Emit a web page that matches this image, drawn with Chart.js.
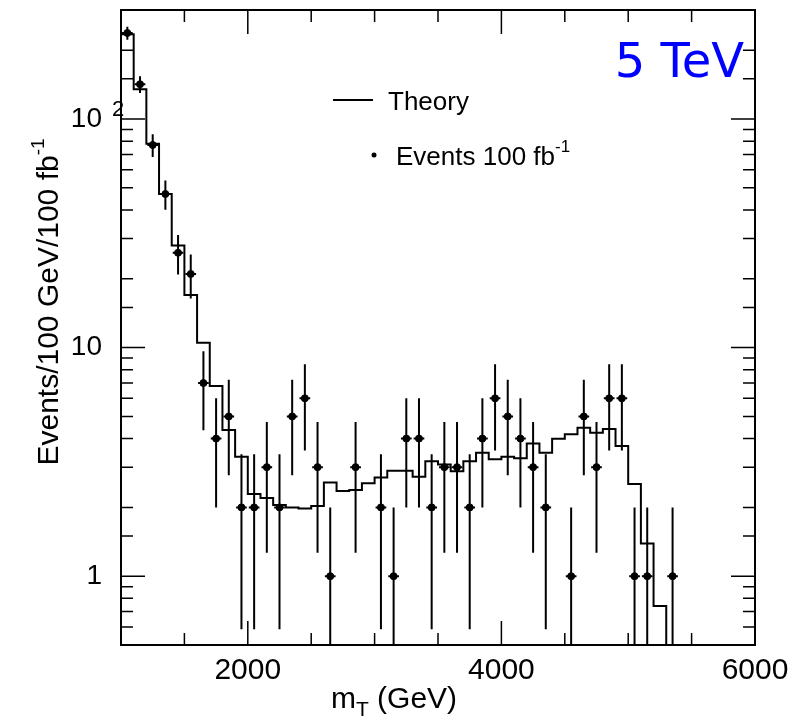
<!DOCTYPE html>
<html>
<head>
<meta charset="utf-8">
<script src="https://cdn.jsdelivr.net/npm/chart.js@4.4.1/dist/chart.umd.min.js"></script>
<style>
  html, body { margin: 0; padding: 0; background: #fff; }
  #wrap { width: 795px; height: 725px; }
</style>
</head>
<body>
<div id="wrap"><canvas id="grafico" width="795" height="725"></canvas></div>
<script>
// bordes de los bins (GeV) y prediccion teorica por bin
const binEdges = [1000, 1100, 1200, 1300, 1400, 1500, 1600, 1700, 1800, 1900,
  2000, 2100, 2200, 2300, 2400, 2500, 2600, 2700, 2800, 2900,
  3000, 3100, 3200, 3300, 3400, 3500, 3600, 3700, 3800, 3900,
  4000, 4100, 4200, 4300, 4400, 4500, 4600, 4700, 4800, 4900,
  5000, 5100, 5200, 5300, 5400];
const theory = [235, 135, 78, 47, 28, 17, 10.5, 6.8, 4.36, 3.33,
  2.29, 2.2, 2.05, 2.0, 1.98, 2.03, 2.57, 2.36, 2.38, 2.55,
  2.7, 2.89, 2.89, 2.72, 3.18, 3.08, 2.88, 3.18, 3.47, 3.25,
  3.33, 3.28, 3.81, 3.47, 3.99, 4.18, 4.46, 4.24, 4.4, 3.71,
  2.53, 1.39, 0.74, 0.2];

// eventos observados (centro del bin, cuentas)
const eventX = [1050, 1150, 1250, 1350, 1450, 1550, 1650, 1750, 1850, 1950,
  2050, 2150, 2250, 2350, 2450, 2550, 2650, 2850, 3050, 3150,
  3250, 3350, 3450, 3550, 3650, 3750, 3850, 3950, 4050, 4150,
  4250, 4350, 4550, 4650, 4750, 4850, 4950, 5050, 5150, 5350];
const eventN = [238, 142, 77, 47, 26, 21, 7, 4, 5, 2,
  2, 3, 2, 5, 6, 3, 1, 3, 2, 1,
  4, 4, 2, 3, 3, 2, 4, 6, 5, 4,
  3, 2, 1, 5, 3, 6, 6, 1, 1, 1];

const xTickLabels = { 2000: '2000', 4000: '4000', 6000: '6000' };
const yTickLabels = { 1: '1', 10: '10', 100: '10' };

const FONT = "'Liberation Sans', Arial, Helvetica, sans-serif";

document.addEventListener('DOMContentLoaded', function () {
    const ctx = document.getElementById('grafico').getContext('2d');

    const theoryData = binEdges.map((x, i) => ({ x: x, y: theory[Math.min(i, theory.length - 1)] }));
    const eventData = eventX.map((x, i) => ({ x: x, y: eventN[i] }));

    // marcas hacia dentro en los cuatro lados
    const ticksPlugin = {
        id: 'ticksMarcos',
        afterDraw(chart) {
            const { ctx, chartArea: a, scales } = chart;
            ctx.save();
            ctx.strokeStyle = '#000';
            ctx.lineWidth = 1.5;
            scales.x.ticks.forEach(t => {
                const px = scales.x.getPixelForValue(t.value);
                const len = xTickLabels[t.value] ? 24 : 12;
                ctx.beginPath();
                ctx.moveTo(px, a.bottom); ctx.lineTo(px, a.bottom - len);
                ctx.moveTo(px, a.top); ctx.lineTo(px, a.top + len);
                ctx.stroke();
            });
            scales.y.ticks.forEach(t => {
                const py = scales.y.getPixelForValue(t.value);
                if (py < a.top + 1 || py > a.bottom - 1) return;
                const len = yTickLabels[t.value] ? 24 : 12;
                ctx.beginPath();
                ctx.moveTo(a.left, py); ctx.lineTo(a.left + len, py);
                ctx.moveTo(a.right, py); ctx.lineTo(a.right - len, py);
                ctx.stroke();
            });
            // marco
            ctx.lineWidth = 2;
            ctx.strokeRect(a.left, a.top, a.right - a.left, a.bottom - a.top);
            ctx.restore();
        }
    };

    // barras de error: sqrt(N) en vertical, medio bin en horizontal
    const errorPlugin = {
        id: 'barrasError',
        afterDatasetsDraw(chart) {
            const { ctx, chartArea: a, scales } = chart;
            ctx.save();
            ctx.beginPath();
            ctx.rect(a.left, a.top, a.right - a.left, a.bottom - a.top);
            ctx.clip();
            ctx.strokeStyle = '#000';
            ctx.lineWidth = 2;
            eventData.forEach(p => {
                const err = Math.sqrt(p.y);
                const px = scales.x.getPixelForValue(p.x);
                const py = scales.y.getPixelForValue(p.y);
                const hi = scales.y.getPixelForValue(p.y + err);
                const low = p.y - err > 0.01 ? scales.y.getPixelForValue(p.y - err) : a.bottom + 5;
                const x0 = scales.x.getPixelForValue(p.x - 50);
                const x1 = scales.x.getPixelForValue(p.x + 50);
                ctx.beginPath();
                ctx.moveTo(px, hi); ctx.lineTo(px, low);
                ctx.moveTo(x0 + 1, py); ctx.lineTo(x1 - 1, py);
                ctx.stroke();
            });
            ctx.restore();
        }
    };

    // textos: titulos de ejes, exponentes, leyenda y energia
    const textPlugin = {
        id: 'textos',
        afterDraw(chart) {
            const { ctx, scales } = chart;
            ctx.save();
            ctx.fillStyle = '#000';
            ctx.textBaseline = 'alphabetic';

            // exponente del 10^2
            const y100 = scales.y.getPixelForValue(100);
            ctx.font = '22px ' + FONT;
            ctx.textAlign = 'left';
            ctx.fillText('2', 112, y100 - 3);

            // titulo eje x
            ctx.font = '30px ' + FONT;
            ctx.textAlign = 'left';
            const xt = 'm';
            const rest = ' (GeV)';
            const wM = ctx.measureText(xt).width;
            ctx.font = '21px ' + FONT;
            const wT = ctx.measureText('T').width;
            ctx.font = '30px ' + FONT;
            const wR = ctx.measureText(rest).width;
            let sx = 394 - (wM + wT + wR) / 2;
            const by = 708;
            ctx.fillText(xt, sx, by);
            ctx.font = '21px ' + FONT;
            ctx.fillText('T', sx + wM, by + 8);
            ctx.font = '30px ' + FONT;
            ctx.fillText(rest, sx + wM + wT, by);

            // titulo eje y
            ctx.save();
            ctx.translate(58, 302);
            ctx.rotate(-Math.PI / 2);
            ctx.font = '30px ' + FONT;
            const yt = 'Events/100 GeV/100 fb';
            const wy = ctx.measureText(yt).width;
            ctx.font = '19px ' + FONT;
            const ws = ctx.measureText('-1').width;
            const y0 = -(wy + ws) / 2;
            ctx.font = '30px ' + FONT;
            ctx.fillText(yt, y0, 0);
            ctx.font = '19px ' + FONT;
            ctx.fillText('-1', y0 + wy, -14);
            ctx.restore();

            // leyenda
            ctx.lineWidth = 2;
            ctx.strokeStyle = '#000';
            ctx.beginPath();
            ctx.moveTo(333, 100); ctx.lineTo(373, 100);
            ctx.stroke();
            ctx.font = '26px ' + FONT;
            ctx.fillText('Theory', 388, 110);
            ctx.beginPath();
            ctx.arc(374, 155, 2.5, 0, Math.PI * 2);
            ctx.fill();
            const le = 'Events 100 fb';
            ctx.fillText(le, 396, 165);
            const wl = ctx.measureText(le).width;
            ctx.font = '17px ' + FONT;
            ctx.fillText('-1', 396 + wl, 152);

            // energia
            ctx.fillStyle = '#0000ff';
            ctx.font = "48px 'DejaVu Sans', sans-serif";
            ctx.textAlign = 'right';
            ctx.fillText('5 TeV', 744, 77);
            ctx.restore();
        }
    };

    new Chart(ctx, {
        type: 'scatter',
        data: {
            datasets: [{
                type: 'line',
                label: 'Theory',
                data: theoryData,
                stepped: 'before',
                borderColor: '#000',
                borderWidth: 2,
                pointRadius: 0,
                fill: false
            }, {
                label: 'Events 100 fb-1',
                data: eventData,
                backgroundColor: '#000',
                borderColor: '#000',
                pointRadius: 3.5,
                pointHoverRadius: 3.5
            }]
        },
        options: {
            responsive: false,
            animation: false,
            events: [],
            layout: {
                padding: { left: 0, right: 40, top: 10, bottom: 0 }
            },
            scales: {
                x: {
                    type: 'linear',
                    min: 1000,
                    max: 6000,
                    grid: { display: false },
                    border: { display: false },
                    afterFit: s => { s.height = 80; s.paddingLeft = 0; s.paddingRight = 0; },
                    ticks: {
                        stepSize: 500,
                        autoSkip: false,
                        maxRotation: 0,
                        minRotation: 0,
                        padding: 0,
                        color: '#000',
                        font: { family: FONT, size: 30 },
                        callback: v => xTickLabels[v] || ''
                    }
                },
                y: {
                    type: 'logarithmic',
                    min: 0.5,
                    max: 300,
                    grid: { display: false },
                    border: { display: false },
                    afterFit: s => { s.width = 121; s.paddingTop = 0; s.paddingBottom = 0; },
                    ticks: {
                        autoSkip: false,
                        padding: 11,
                        color: '#000',
                        font: { family: FONT, size: 28 },
                        callback: v => yTickLabels[v] || ''
                    }
                }
            },
            plugins: {
                legend: { display: false },
                tooltip: { enabled: false }
            }
        },
        plugins: [errorPlugin, ticksPlugin, textPlugin]
    });
});
</script>
</body>
</html>
